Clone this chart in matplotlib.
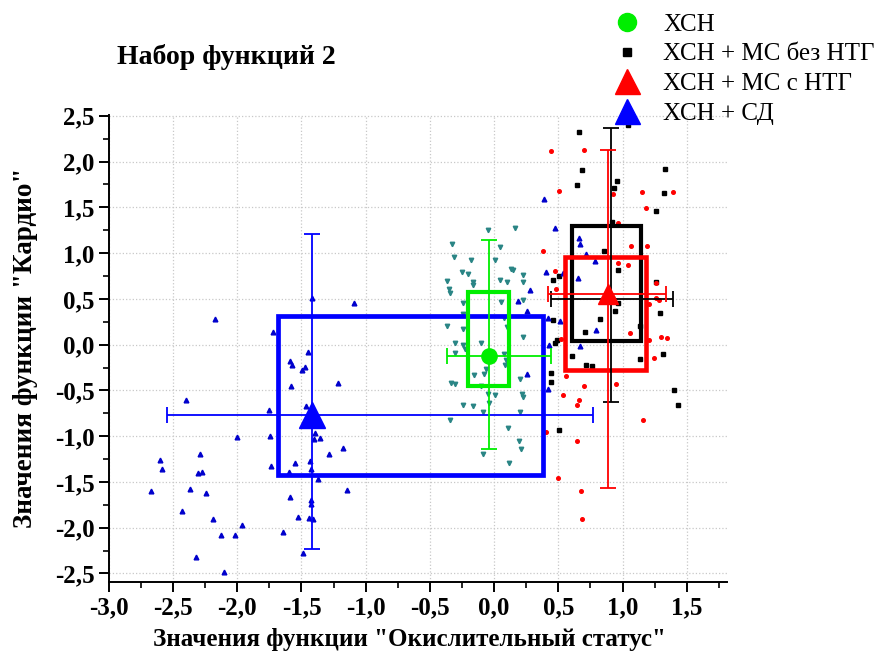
import numpy as np
import matplotlib
matplotlib.use('Agg')
from matplotlib import pyplot as plt
from matplotlib.patches import Rectangle
from matplotlib.lines import Line2D
from matplotlib.ticker import MultipleLocator, FuncFormatter

plt.rcParams['font.family'] = ['Liberation Serif', 'DejaVu Serif']

# ---- scatter points ----
# ХСН (teal down-triangles)
chn_x = [-0.045, 0.165, -0.33, 0.048, -0.312, -0.18, 0.007, -0.247, -0.2, 0.131, 0.144, 0.048, 0.097,
         0.222, 0.222, -0.369, -0.343, -0.167, -0.162, -0.35, -0.245, 0.054, 0.227, -0.245, -0.366,
         -0.245, 0.079, 0.1, 0.222, -0.302, -0.245, -0.228, -0.102, -0.302, 0.079, 0.087, 0.092,
         -0.154, -0.077, -0.06, 0.2, -0.338, -0.302, -0.102, 0.009, -0.05, 0.218, 0.222, -0.037,
         -0.24, -0.167, -0.085, 0.201, -0.341, 0.105, 0.194, 0.207, -0.085, 0.113]
chn_y = [1.248, 1.277, 1.102, 1.062, 0.957, 0.928, 0.928, 0.793, 0.768, 0.83, 0.82, 0.702, 0.684,
         0.757, 0.684, 0.699, 0.564, 0.684, 0.648, 0.61, 0.454, 0.465, 0.487, 0.338, 0.2,
         0.175, 0.295, 0.192, 0.083, 0.022, -0.008, -0.044, 0.022, -0.092, -0.1, -0.226, -0.17,
         -0.335, -0.324, -0.27, -0.371, -0.419, -0.434, -0.451, -0.553, -0.535, -0.535, -0.572, -0.638,
         -0.659, -0.67, -0.736, -0.736, -0.826, -0.911, -1.052, -1.135, -1.19, -1.288]

# ХСН + МС без НТГ (black squares)
ms_no_x = [0.662, 1.044, 0.688, 0.649, 0.96, 0.935, 1.329, 1.326, 1.259, 0.917, 0.857, 0.963, 1.259,
           0.507, 0.46, 0.966, 0.945, 1.29, 0.826, 0.455, 1.135, 0.707, 0.486, 0.476, 0.603, 1.318,
           1.132, 0.714, 0.76, 0.442, 0.443, 1.401, 1.435, 0.507]
ms_no_y = [2.321, 2.394, 1.903, 1.739, 1.783, 1.714, 1.914, 1.659, 1.459, 1.339, 1.026, 0.819, 0.684,
           0.746, 0.703, 0.459, 0.367, 0.349, 0.276, 0.273, 0.203, 0.138, 0.047, 0.017, -0.128, -0.106,
           -0.157, -0.218, -0.237, -0.31, -0.408, -0.491, -0.659, -0.936]

# ХСН + МС с НТГ (red dots)
ms_ntg_x = [0.442, 0.696, 0.507, 0.929, 1.15, 1.394, 1.181, 0.968, 0.38, 1.064, 1.193, 0.476, 0.968,
            1.04, 1.259, 0.481, 1.259, 1.285, 1.207, 1.057, 1.204, 1.3, 1.344, 0.522, 1.244, 0.559,
            0.948, 0.696, 0.54, 0.662, 0.649, 1.16, 0.403, 0.645, 0.5, 0.676, 0.688]
ms_ntg_y = [2.11, 2.129, 1.674, 1.648, 1.666, 1.666, 1.496, 1.328, 1.019, 1.073, 1.073, 0.804, 0.891,
            0.866, 0.673, 0.604, 0.509, 0.484, 0.448, 0.131, 0.055, 0.08, 0.07, 0.06, -0.146, -0.339,
            -0.426, -0.451, -0.553, -0.608, -0.663, -0.826, -0.954, -1.052, -1.456, -1.598, -1.9]

# ХСН + СД (blue triangles)
sd_x = [-1.095, -2.176, -1.722, -1.45, -1.593, -1.572, -1.471, -1.497, -1.58, -1.217, -1.416, -2.396,
        -1.753, -1.463, -2.0, -1.743, -1.393, -1.406, -1.359, -1.287, -1.173, -2.603, -2.583, -2.287,
        -2.305, -2.274, -1.735, -1.554, -1.432, -1.424, -1.6, -1.372, -2.668, -2.365, -2.24, -1.144,
        -1.59, -1.424, -1.424, -2.43, -2.189, -1.528, -1.445, -1.411, -1.966, -2.124, -2.015, -1.647,
        -2.318, -1.489, -2.103,
        0.385, 0.473, 0.657, 0.668, 0.719, 0.784, 0.406, 0.533, 0.655, 0.281, 0.188, 0.256, 0.421,
        0.515, 0.797, 0.429, 0.665, 0.256, 0.421]
sd_y = [0.458, 0.284, 0.138, -0.084, -0.182, -0.218, -0.245, -0.273, -0.452, -0.419, 0.513, -0.6,
        -0.717, -0.673, -1.008, -0.994, -0.961, -1.027, -1.016, -1.19, -1.129, -1.263, -1.358, -1.198,
        -1.402, -1.391, -1.329, -1.293, -1.27, -1.354, -1.394, -1.47, -1.6, -1.577, -1.62, -1.591,
        -1.664, -1.7, -1.736, -1.817, -1.907, -1.882, -1.893, -1.907, -1.973, -2.085, -2.085, -2.049,
        -2.319, -2.271, -2.483,
        1.594, 1.273, 1.16, 1.102, 0.986, 0.913, 0.797, 0.786, 0.731, 0.596, 0.48, 0.367, 0.287,
        0.258, 0.156, 0.0, -0.015, -0.324, -0.485]

# ---- group summaries: centre, box (x0, x1, y0, y1), error-bar ends ----
groups = ['ХСН', 'ХСН + МС без НТГ', 'ХСН + МС с НТГ', 'ХСН + СД']
colors = ['#00ee00', 'black', '#ff0000', '#0000ff']
center_x = [-0.043, 0.909, 0.888, -1.416]
center_y = [-0.128, 0.495, 0.557, -0.772]
box_x0 = [-0.206, 0.606, 0.551, -1.683]
box_x1 = [0.113, 1.147, 1.18, 0.377]
box_y0 = [-0.455, 0.036, -0.273, -1.427]
box_y1 = [0.574, 1.295, 0.957, 0.309]
xerr_lo = [-0.37, 0.443, 0.416, -2.547]
xerr_hi = [0.443, 1.396, 1.337, 0.766]
yerr_lo = [-1.143, -0.627, -1.566, -2.238]
yerr_hi = [1.146, 2.37, 2.129, 1.212]
markers = ['o', 's', '^', '^']
msizes = [11, 4, 15, 19]

fig = plt.figure(figsize=(8.85, 6.6), dpi=100)
ax = fig.add_axes([0.123, 0.1186, 0.698, 0.7074])

ax.plot(chn_x, chn_y, 'v', color='#2a8585', ms=3.2, ls='none', zorder=2)
ax.plot(ms_no_x, ms_no_y, 's', color='black', ms=3, ls='none', zorder=2)
ax.plot(ms_ntg_x, ms_ntg_y, 'o', color='#ff0000', ms=2.6, ls='none', zorder=2)
ax.plot(sd_x, sd_y, '^', color='#0000cc', ms=3.4, ls='none', zorder=2)

box_lw = [3.0, 3.0, 3.3, 3.4]
for i in [3, 0, 1, 2]:
    ax.add_patch(Rectangle((box_x0[i], box_y0[i]), box_x1[i] - box_x0[i], box_y1[i] - box_y0[i],
                           fill=False, edgecolor=colors[i], lw=box_lw[i], zorder=3))

for i in [3, 0, 1, 2]:
    xe = [[center_x[i] - xerr_lo[i]], [xerr_hi[i] - center_x[i]]]
    ye = [[center_y[i] - yerr_lo[i]], [yerr_hi[i] - center_y[i]]]
    ax.errorbar([center_x[i]], [center_y[i]], xerr=xe, yerr=ye, fmt='none',
                ecolor=colors[i], elinewidth=1.3, capsize=5.5, capthick=1.3, zorder=4)
    ax.plot([center_x[i]], [center_y[i]], markers[i], color=colors[i], ms=msizes[i], zorder=5)

ax.set_xlim(-3.0, 1.81)
ax.set_ylim(-2.59, 2.51)
ax.xaxis.set_major_locator(MultipleLocator(0.5))
ax.xaxis.set_minor_locator(MultipleLocator(0.25))
ax.yaxis.set_major_locator(MultipleLocator(0.5))
ax.yaxis.set_minor_locator(MultipleLocator(0.25))
fmt = FuncFormatter(lambda v, p: ('%.1f' % v).replace('.', ',').replace('-0,0', '0,0'))
ax.xaxis.set_major_formatter(fmt)
ax.yaxis.set_major_formatter(fmt)
ax.tick_params(which='major', direction='out', length=7, width=1.4, labelsize=18)
ax.tick_params(which='minor', direction='out', length=4, width=1.2)
for lab in ax.get_xticklabels() + ax.get_yticklabels():
    lab.set_fontweight('bold')
ax.spines['top'].set_visible(False)
ax.spines['right'].set_visible(False)
ax.spines['left'].set_linewidth(1.4)
ax.spines['bottom'].set_linewidth(1.4)
ax.grid(True, which='major', ls=':', color='#c8c8c8', lw=0.9)
ax.set_axisbelow(True)

ax.set_xlabel('Значения функции "Окислительный статус"', fontsize=18, fontweight='bold')
ax.xaxis.set_label_coords(0.487, -0.1)
ax.set_ylabel('Значения функции "Кардио"', fontsize=19.5, fontweight='bold', labelpad=12)
fig.text(117 / 885, 1 - 57 / 660, 'Набор функций 2', fontsize=20, fontweight='bold', va='center')

handles = [Line2D([], [], ls='none', marker=markers[i], color=colors[i],
                  ms=[13, 6, 18, 18][i]) for i in range(4)]
fig.legend(handles, groups, loc='upper left', bbox_to_anchor=(597 / 885, 1 + 2 / 660), frameon=False,
           fontsize=18, labelspacing=0.29, handletextpad=0.85, handlelength=1.2, borderaxespad=0.2)

fig.savefig('out.png', dpi=100)
